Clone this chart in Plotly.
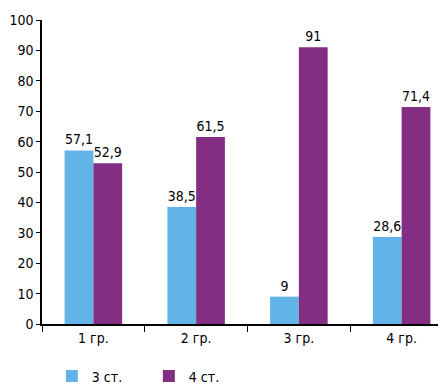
import plotly.graph_objects as go

categories = ["1 гр.", "2 гр.", "3 гр.", "4 гр."]
series_names = ["3 ст.", "4 ст."]
values_3 = [57.1, 38.5, 9, 28.6]
values_4 = [52.9, 61.5, 91, 71.4]
colors = ["#62B4E8", "#832D83"]

def fmt(v):
    s = f"{v:g}"
    return s.replace(".", ",")

FONT = "DejaVu Sans Condensed, Liberation Sans Narrow, Arial Narrow, sans-serif"

fig = go.Figure()
for name, vals, col in zip(series_names, [values_3, values_4], colors):
    fig.add_trace(go.Bar(
        x=categories, y=vals, name=name,
        marker=dict(color=col, line=dict(width=0)),
        text=[fmt(v) for v in vals], textposition="outside",
        textfont=dict(family=FONT, size=14, color="black"),
        cliponaxis=False,
    ))

fig.update_layout(
    width=446, height=386,
    margin=dict(l=34, r=1, t=12, b=61),
    paper_bgcolor="white", plot_bgcolor="white",
    barmode="group", bargap=0.44, bargroupgap=0,
    font=dict(family=FONT, size=14, color="black"),
    showlegend=True,
    legend=dict(orientation="h", x=0.024, y=-0.12, xanchor="left", yanchor="top",
                font=dict(family=FONT, size=14, color="black"),
                entrywidth=52, entrywidthmode="pixels", traceorder="normal"),
    xaxis=dict(showline=True, linecolor="black", linewidth=2, automargin=False,
               ticks="outside", tickson="boundaries", ticklen=6, tickcolor="black",
               tickfont=dict(family=FONT, size=14), showgrid=False),
    yaxis=dict(range=[0, 100], dtick=10, showline=True, linecolor="black", linewidth=1.5,
               automargin=False,
               ticks="outside", ticklen=4, tickcolor="black", showgrid=False,
               zeroline=False, tickfont=dict(family=FONT, size=14)),
)

fig.write_html("out.html")
